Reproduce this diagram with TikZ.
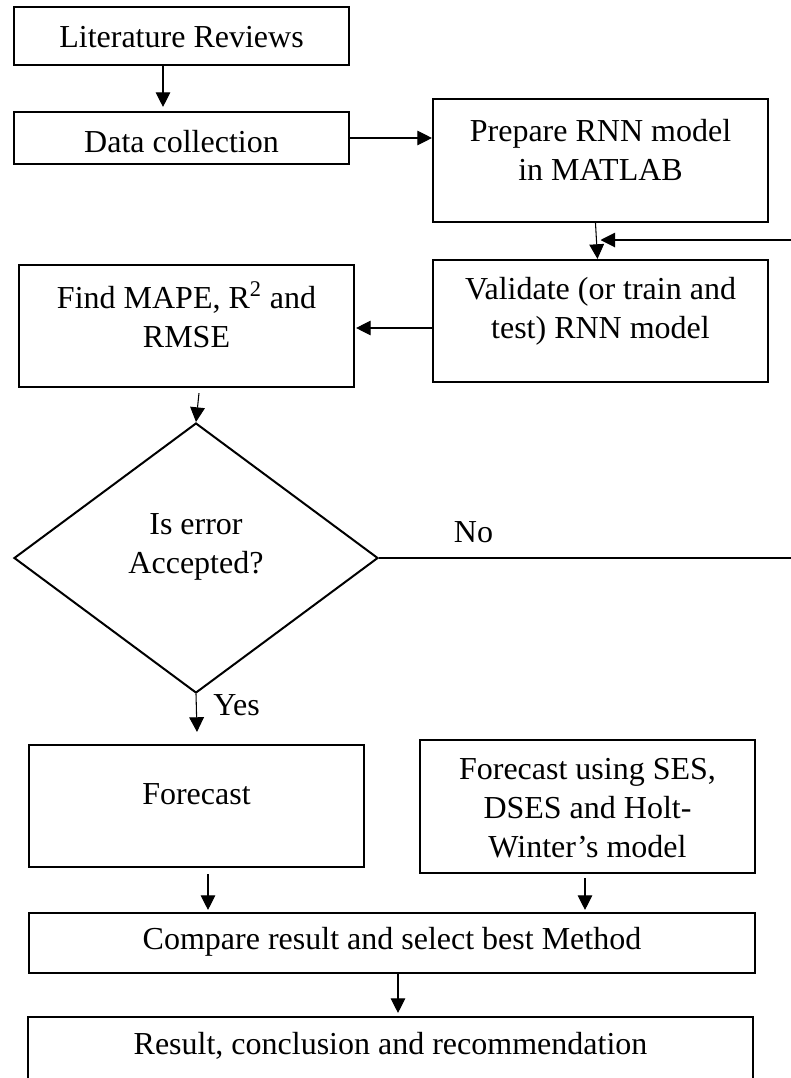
\documentclass[tikz,border=0pt]{standalone}
\usepackage{fontspec}
\setmainfont{Liberation Serif}
\usetikzlibrary{shapes.geometric,arrows.meta,calc}
\begin{document}
\begin{tikzpicture}[x=0.75pt,y=-0.75pt,
  box/.style={draw, line width=1.6pt, inner sep=0pt, rectangle},
  dbox/.style={draw, line width=1.5pt, inner sep=0pt, diamond},
  txt/.style={font=\fontsize{24}{29.25}\selectfont, align=center, inner sep=0pt},
  arr/.style={-{Triangle[length=11pt,width=11pt]}, line width=0.8pt},
  conn/.style={line width=0.8pt}]
\clip (0,0) rectangle (791,1078);
\fill[white] (0,0) rectangle (791,1078);

% boxes
\node[box, minimum width=251.25pt, minimum height=43.5pt] (lit) at (181.5,36) {};
\node[box, minimum width=251.25pt, minimum height=39pt] (data) at (181.5,138) {};
\node[box, minimum width=251.25pt, minimum height=92.25pt] (prep) at (600.5,160.5) {};
\node[box, minimum width=251.25pt, minimum height=91.5pt] (val) at (600.5,321) {};
\node[box, minimum width=251.25pt, minimum height=91.5pt] (find) at (186.5,326) {};
\node[dbox, minimum width=273pt, minimum height=202.5pt] (dia) at (196,558) {};
\node[box, minimum width=251.25pt, minimum height=91.5pt] (fore) at (196.5,806) {};
\node[box, minimum width=251.25pt, minimum height=99.75pt] (ses) at (587.5,806.5) {};
\node[box, minimum width=544.5pt, minimum height=45pt] (comp) at (392,943) {};
\node[box, minimum width=543.75pt, minimum height=58.5pt] (res) at (390.5,1056) {};

% texts
\node[txt] (tlit) at (181.5,37.3) {Literature Reviews};
\node[txt] (tdata) at (181.5,141.5) {Data collection};
\node[txt] (tprep) at (600.5,150) {Prepare RNN model\\in MATLAB};
\node[txt] (tval) at (600.5,311) {Validate (or train and\\test) RNN model};
\node[txt] (tfind) at (186.5,315) {Find MAPE, R\textsuperscript{2} and\\RMSE};
\node[txt] (tdia) at (196,547) {Is error\\Accepted?};
\node[txt] (tfore) at (196.5,794) {Forecast};
\node[txt] (tses) at (587.5,808) {Forecast using SES,\\DSES and Holt-\\Winter’s model};
\node[txt] (tcomp) at (392,942) {Compare result and select best Method};
\node[txt] (tres) at (390.5,1046) {Result, conclusion and recommendation};
\node[txt] (no) at (473.5,532) {No};
\node[txt, anchor=west] (yes) at (213,705) {Yes};

% connectors
\coordinate (fbtop) at (793,240);
\draw[arr] ($(lit.south)+(-18.5,0)$) -- ($(data.north)+(-18.5,-4)$);
\draw[arr] (data.east) -- (data.east -| prep.west);
\draw[arr] ($(prep.south)+(-5,0)$) -- ($(val.north)+(-3,0)$);
\draw[arr] (dia.east) -- (dia.east -| fbtop) -- (fbtop) -- (fbtop -| val.north);
\draw[arr] ($(val.west)+(0,7)$) -- ($(find.east)+(1,2)$);
\draw[arr] ($(find.south)+(12.5,5)$) -- (dia.north);
\draw[arr] (dia.south) -- ($(fore.north)+(0.5,-12)$);
\draw[arr] ($(fore.south)+(11.5,6)$) -- ($(comp.north)+(-184,-2)$);
\draw[arr] ($(ses.south)+(-2.5,4)$) -- ($(comp.north)+(193,-2)$);
\draw[arr] ($(comp.south)+(6,0)$) -- ($(res.north)+(7.5,-3)$);
\end{tikzpicture}
\end{document}
